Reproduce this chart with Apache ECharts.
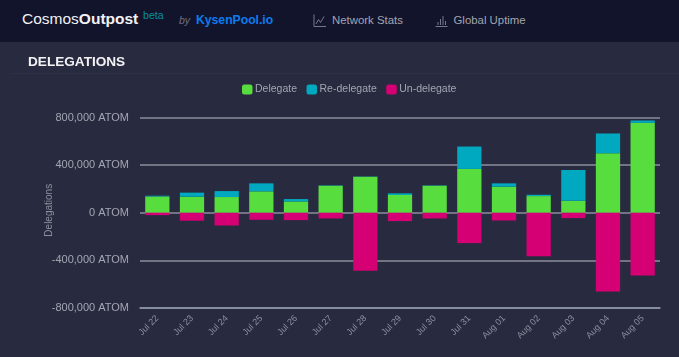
<!DOCTYPE html>
<html>
<head>
<meta charset="utf-8">
<script src="https://cdn.jsdelivr.net/npm/echarts@6/dist/echarts.min.js"></script>
<style>
  html, body { margin: 0; padding: 0; width: 679px; height: 357px; overflow: hidden; background: #282b3f; font-family: "Liberation Sans", sans-serif; }
  .nav { position: absolute; left: 0; top: 0; width: 679px; height: 42px; background: #12142b; }
  .nav span, .nav svg, .title, .rule { position: absolute; white-space: nowrap; }
  .brand { left: 22px; top: 8px; font-size: 15.5px; line-height: 21px; color: #f2f2f4; }
  .beta { left: 143px; top: 8px; font-size: 10.6px; line-height: 14px; color: #0b8ea3; }
  .by { left: 179px; top: 13px; font-size: 10.5px; line-height: 14px; font-style: italic; color: #6d6f80; }
  .pool { left: 196px; top: 12px; font-size: 12.2px; line-height: 16px; font-weight: bold; color: #0a7cf0; }
  .link { top: 13px; font-size: 11.4px; line-height: 15px; color: #a3a5b1; }
  .title { left: 28px; top: 53px; font-size: 13.6px; line-height: 18px; font-weight: bold; color: #f2f2f4; z-index: 2; }
  .rule { left: 10px; top: 73px; width: 669px; height: 1px; background: #2e3145; z-index: 2; }
  #deleChart { position: absolute; left: 0; top: 0; width: 679px; height: 357px; }
</style>
</head>
<body>
<div id="deleChart"></div>
<div class="nav">
  <span class="brand">Cosmos<b>Outpost</b></span>
  <span class="beta">beta</span>
  <span class="by">by</span>
  <span class="pool">KysenPool.io</span>
  <svg style="left:313px;top:14px" width="13" height="13" viewBox="0 0 13 13" fill="none" stroke="#75778a" stroke-width="1">
    <path d="M1 0.5V12.5H13"/><path d="M3 10L5.5 5.5L7.5 8.5L11 2.5"/>
  </svg>
  <span class="link" style="left:332px">Network Stats</span>
  <svg style="left:435px;top:14px" width="13" height="13" viewBox="0 0 13 13" fill="none" stroke="#75778a" stroke-width="1">
    <path d="M0.5 12.5H12.5"/><path d="M3 11V8M5.5 11V5M8 11V2M10.5 11V7"/>
  </svg>
  <span class="link" style="left:453.5px">Global Uptime</span>
</div>
<div class="title">DELEGATIONS</div>
<div class="rule"></div>
<script>
  var dates = ['Jul 22', 'Jul 23', 'Jul 24', 'Jul 25', 'Jul 26', 'Jul 27', 'Jul 28', 'Jul 29', 'Jul 30', 'Jul 31', 'Aug 01', 'Aug 02', 'Aug 03', 'Aug 04', 'Aug 05'];
  var delegate = [137000, 135000, 132000, 180000, 95000, 227000, 303000, 149000, 227000, 368000, 219000, 140000, 101000, 500000, 755000];
  var redelegate = [6000, 34000, 50000, 67000, 20000, 3000, 2000, 14000, 3000, 188000, 28000, 11000, 258000, 166000, 20000];
  var undelegate = [-20000, -67000, -107000, -59000, -62000, -48000, -488000, -70000, -48000, -255000, -65000, -365000, -45000, -662000, -528000];

  const myChart = echarts.init(document.getElementById('deleChart'));
  var option = {
    animation: false,
    textStyle: { fontFamily: 'Liberation Sans' },
    color: ['#58dd3e', '#00a8c0', '#d50073'],
    legend: {
      top: 84,
      left: 242,
      itemWidth: 10.5,
      itemHeight: 10,
      itemGap: 9.5,
      padding: 0,
      icon: 'roundRect',
      textStyle: { color: '#a3a5b1', fontSize: 10.5, padding: [0, 0, 0, -2.5] },
      data: ['Delegate', 'Re-delegate', 'Un-delegate']
    },
    grid: { left: 140, right: 19, top: 117.5, bottom: 49 },
    xAxis: [
      {
        type: 'category',
        data: dates,
        axisLine: { onZero: false, lineStyle: { color: '#8a98a6', width: 1.5 } },
        axisTick: {
          length: 5,
          lineStyle: { color: '#6d7b8a' },
          interval: function (index) { return index > 0; }
        },
        axisLabel: { interval: 0, rotate: 45, color: '#8d8f9e', fontSize: 9, margin: 9 }
      }
    ],
    yAxis: [
      {
        type: 'value',
        min: -800000,
        max: 800000,
        interval: 400000,
        name: 'Delegations',
        nameLocation: 'middle',
        nameGap: 86,
        nameMoveOverlap: false,
        nameTextStyle: { color: '#8d8f9e', fontSize: 10, padding: [0, 0, 0, 5] },
        axisLine: { show: false },
        axisTick: { show: false },
        axisLabel: {
          color: '#a3a5b1',
          fontSize: 11,
          margin: 11,
          padding: [0, 0, 4, 0],
          formatter: function (v) { return v.toLocaleString('en-US') + ' ATOM'; }
        },
        splitLine: { lineStyle: { color: '#8b8d9b', width: 1.5 } }
      }
    ],
    series: [
      { name: 'Delegate', type: 'bar', stack: 'Total', barWidth: '70%', data: delegate },
      { name: 'Re-delegate', type: 'bar', stack: 'Total', barWidth: '70%', data: redelegate },
      { name: 'Un-delegate', type: 'bar', stack: 'Total', barWidth: '70%', data: undelegate }
    ]
  };
  myChart.setOption(option, true);
</script>
</body>
</html>
